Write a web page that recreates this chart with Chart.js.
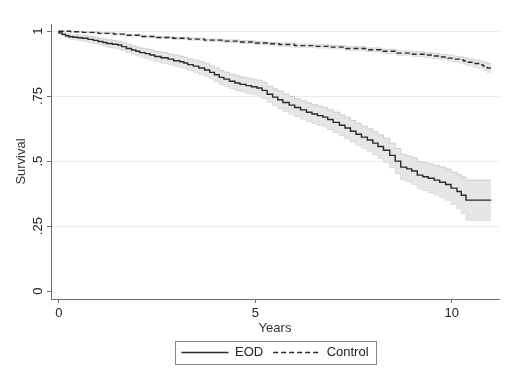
<!DOCTYPE html>
<html>
<head>
<meta charset="utf-8">
<script src="https://cdn.jsdelivr.net/npm/chart.js@4.4.1/dist/chart.umd.min.js"></script>
<style>
  body { margin: 0; background: #fff; }
</style>
</head>
<body>
<canvas id="km" width="529" height="390"></canvas>
<script>
// Kaplan-Meier estimates (and 95% band)
const eodYears = [0, 0.08, 0.17, 0.26, 0.36, 0.48, 0.6, 0.74, 0.88, 1.0, 1.12, 1.22, 1.36, 1.5, 1.6, 1.72, 1.85, 1.96, 2.06, 2.2,
  2.32, 2.44, 2.6, 2.78, 2.92, 3.08, 3.18, 3.28, 3.42, 3.56, 3.71, 3.84, 3.96, 4.08, 4.2, 4.34, 4.48, 4.61, 4.76, 4.9,
  5.04, 5.17, 5.3, 5.44, 5.57, 5.7, 5.86, 6.0, 6.15, 6.3, 6.44, 6.58, 6.72, 6.84, 6.98, 7.14, 7.28, 7.42, 7.56, 7.7,
  7.85, 7.99, 8.12, 8.26, 8.42, 8.56, 8.7, 8.85, 8.98, 9.12, 9.26, 9.4, 9.55, 9.69, 9.84, 9.98, 10.13, 10.24, 10.36, 10.46, 11.0];
const eodSurv = [1.000, .993, .987, .982, .978, .976, .974, .972, .968, .964, .960, .956, .952, .949, .946, .940, .933, .927, .922, .917,
  .913, .908, .902, .897, .892, .886, .882, .877, .871, .865, .858, .850, .841, .832, .822, .815, .807, .800, .795, .790,
  .786, .781, .772, .757, .746, .736, .725, .715, .706, .697, .688, .681, .675, .669, .660, .649, .638, .627, .615, .603,
  .592, .581, .569, .556, .542, .522, .500, .477, .470, .462, .446, .440, .434, .427, .419, .410, .396, .383, .369, .350, .350];
const eodUpper = [1.000, .997, .993, .989, .986, .985, .984, .983, .979, .976, .972, .969, .966, .963, .961, .955, .949, .943, .939, .934,
  .931, .927, .921, .917, .912, .907, .903, .899, .893, .888, .882, .874, .866, .858, .848, .842, .834, .828, .823, .819,
  .815, .811, .803, .788, .778, .769, .758, .749, .740, .732, .724, .717, .712, .706, .698, .688, .678, .667, .656, .645,
  .634, .624, .613, .601, .588, .569, .548, .526, .520, .513, .498, .493, .489, .483, .477, .470, .458, .449, .439, .427, .427];
const eodLower = [1.000, .989, .981, .975, .970, .967, .964, .961, .957, .952, .948, .943, .938, .935, .931, .925, .917, .911, .905, .900,
  .895, .889, .883, .877, .872, .865, .861, .855, .849, .842, .834, .826, .816, .806, .796, .788, .780, .772, .767, .761,
  .757, .751, .741, .726, .714, .703, .692, .681, .672, .662, .652, .645, .638, .632, .622, .610, .598, .587, .574, .561,
  .550, .538, .525, .511, .496, .475, .452, .428, .420, .411, .394, .387, .379, .371, .361, .350, .334, .317, .299, .273, .273];

const ctrlYears = [0, 0.3, 0.6, 1.0, 1.4, 1.7, 2.1, 2.45, 2.9, 3.3, 3.7, 4.15, 4.6, 5.0, 5.3, 5.6, 6.0, 6.5, 6.9, 7.3,
  7.8, 8.2, 8.6, 9.0, 9.3, 9.5, 9.7, 9.9, 10.05, 10.2, 10.3, 10.4, 10.55, 10.7, 10.8, 10.9, 11.0];
const ctrlSurv = [1.000, .999, .997, .995, .991, .988, .984, .979, .975, .972, .969, .965, .961, .958, .954, .951, .948, .944, .941, .938,
  .933, .928, .922, .915, .911, .908, .904, .900, .896, .892, .889, .885, .880, .875, .870, .865, .858];
const ctrlUpper = [1.000, 1.000, .998, .997, .993, .991, .987, .982, .978, .976, .973, .969, .966, .963, .959, .956, .954, .950, .947, .944,
  .940, .935, .930, .923, .920, .917, .914, .910, .907, .903, .901, .897, .893, .889, .885, .881, .876];
const ctrlLower = [1.000, .998, .996, .993, .989, .985, .981, .976, .972, .968, .965, .961, .956, .953, .949, .946, .942, .938, .935, .932,
  .926, .921, .914, .907, .902, .899, .894, .890, .885, .881, .877, .873, .867, .861, .855, .849, .840];

const xTicks = [0, 5, 10];
const yTicks = [0, 0.25, 0.5, 0.75, 1];
const yTickLabels = ['0', '.25', '.5', '.75', '1'];

const pts = (xs, ys) => xs.map((x, i) => ({ x: x, y: ys[i] }));

const FONT = "'Liberation Sans', Arial, sans-serif";
const INK = '#2b2b2b';
const AXIS = '#6e6e6e';

// frame around the legend, like the Stata legend box
const legendFrame = {
  id: 'legendFrame',
  afterDraw(chart) {
    const boxes = chart.legend && chart.legend.legendHitBoxes;
    if (!boxes || !boxes.length) return;
    let l = Infinity, r = -Infinity, t = Infinity, b = -Infinity;
    boxes.forEach(h => {
      l = Math.min(l, h.left); r = Math.max(r, h.left + h.width);
      t = Math.min(t, h.top); b = Math.max(b, h.top + h.height);
    });
    const c = chart.ctx;
    c.save();
    c.strokeStyle = '#8a8a8a';
    c.lineWidth = 1;
    c.strokeRect(Math.round(l - 6) + 0.5, Math.round(t - 5) + 0.5, Math.round(r - l + 14), Math.round(b - t + 10));
    c.restore();
  }
};

new Chart(document.getElementById('km').getContext('2d'), {
  type: 'line',
  data: {
    datasets: [
      { label: 'EOD', data: pts(eodYears, eodSurv), borderColor: INK, borderWidth: 1.4,
        stepped: 'after', pointRadius: 0, fill: false, order: 0 },
      { label: 'Control', data: pts(ctrlYears, ctrlSurv), borderColor: INK, borderWidth: 1.4,
        borderDash: [5, 3], stepped: 'after', pointRadius: 0, fill: false, order: 0 },
      { label: 'eod_ub', data: pts(eodYears, eodUpper), borderColor: '#c4c4c4', borderWidth: 0.8,
        backgroundColor: '#e6e6e6', stepped: 'after', pointRadius: 0, fill: '+1', order: 1 },
      { label: 'eod_lb', data: pts(eodYears, eodLower), borderColor: '#c4c4c4', borderWidth: 0.8,
        stepped: 'after', pointRadius: 0, fill: false, order: 1 },
      { label: 'ctrl_ub', data: pts(ctrlYears, ctrlUpper), borderColor: '#cdcdcd', borderWidth: 0.8,
        backgroundColor: '#e6e6e6', stepped: 'after', pointRadius: 0, fill: '+1', order: 1 },
      { label: 'ctrl_lb', data: pts(ctrlYears, ctrlLower), borderColor: '#cdcdcd', borderWidth: 0.8,
        stepped: 'after', pointRadius: 0, fill: false, order: 1 }
    ]
  },
  options: {
    responsive: false,
    animation: false,
    layout: { padding: { left: 14, right: 30, top: 24, bottom: 21 } },
    plugins: {
      tooltip: { enabled: false },
      legend: {
        position: 'bottom',
        fullSize: false,
        labels: {
          generateLabels: chart => Chart.defaults.plugins.legend.labels.generateLabels(chart)
            .filter(item => item.datasetIndex < 2)
            .map(item => {
              item.lineDash = chart.data.datasets[item.datasetIndex].borderDash || [];
              item.lineWidth = 1.4;
              item.strokeStyle = INK;
              return item;
            }),
          usePointStyle: true,
          pointStyle: 'line',
          pointStyleWidth: 47,
          color: '#222',
          padding: 10,
          font: { family: FONT, size: 13 }
        }
      }
    },
    scales: {
      x: {
        type: 'linear',
        min: -0.2,
        max: 11.2,
        afterBuildTicks: s => { s.ticks = xTicks.map(v => ({ value: v })); },
        afterFit: s => { s.height = 37; },
        border: { color: AXIS, width: 1 },
        grid: { drawOnChartArea: false, drawTicks: true, tickLength: 4, tickColor: AXIS },
        ticks: { color: '#222', padding: 3, maxRotation: 0, font: { family: FONT, size: 13 } },
        title: { display: true, text: 'Years', color: '#333', padding: 0, font: { family: FONT, size: 13 } }
      },
      y: {
        min: -0.03,
        max: 1.027,
        afterBuildTicks: s => { s.ticks = yTicks.map(v => ({ value: v })); },
        afterFit: s => { s.width = 37; },
        border: { color: AXIS, width: 1 },
        grid: {
          color: c => (c.tick && c.tick.value === 0) ? 'rgba(0,0,0,0)' : '#ececec',
          drawTicks: true, tickLength: 4, tickColor: AXIS
        },
        ticks: {
          color: '#222', padding: 0, minRotation: 90, maxRotation: 90, crossAlign: 'center',
          font: { family: FONT, size: 13 },
          callback: v => yTickLabels[yTicks.indexOf(v)]
        },
        title: { display: true, text: 'Survival', color: '#333', padding: 0, font: { family: FONT, size: 13 } }
      }
    }
  },
  plugins: [legendFrame]
});
</script>
</body>
</html>
